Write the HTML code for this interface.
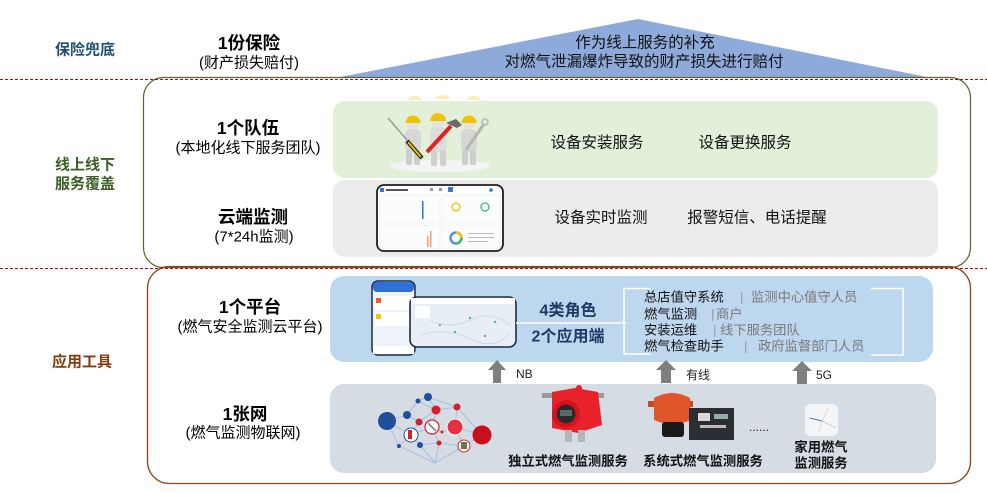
<!DOCTYPE html>
<html><head><meta charset="utf-8">
<style>
html,body{margin:0;padding:0;background:#fff;}
svg{display:block;}
text{font-family:"Liberation Sans","Noto Sans CJK SC",sans-serif;dominant-baseline:central;}
.t{text-anchor:middle;}
.b{font-weight:bold;}
</style></head><body>
<svg width="987" height="493" viewBox="0 0 987 493" xmlns="http://www.w3.org/2000/svg">
<rect width="987" height="493" fill="#fff"/>
<!-- roof -->
<polygon points="638,19 340,77 927,77" fill="#8eaadb"/>
<!-- outer boxes -->
<rect x="143.5" y="77.5" width="827" height="190" rx="20" fill="none" stroke="#4e6b30" stroke-width="1.2"/>
<rect x="147.5" y="266.5" width="823" height="217" rx="22" fill="none" stroke="#8a4516" stroke-width="1.3"/>
<line x1="0" y1="79.5" x2="987" y2="79.5" stroke="#d00000" stroke-width="1" stroke-dasharray="3 2"/>
<line x1="0" y1="268.5" x2="987" y2="268.5" stroke="#d00000" stroke-width="1" stroke-dasharray="3 2"/>

<!-- inner boxes -->
<rect x="333" y="101" width="605" height="77" rx="12" fill="#e2efd9"/>
<rect x="333" y="180" width="605" height="77" rx="12" fill="#ececec"/>
<rect x="330" y="276" width="603" height="86" rx="14" fill="#bdd7ee"/>
<rect x="330" y="384" width="606" height="89" rx="14" fill="#d6dce4"/>

<!-- workers -->
<g>
<path d="M408,100 a7,4 0 0 1 14,0 z M436,99 a7,4 0 0 1 14,0 z M467,100 a7,4 0 0 1 14,0 z" fill="#f7e6a0" opacity="0.7"/>
<ellipse cx="440" cy="166" rx="50" ry="6" fill="#f4f4f4"/>
<!-- left -->
<rect x="405" y="129" width="16" height="23" rx="6" fill="#d6d6d6"/>
<rect x="406" y="150" width="6" height="15" rx="2" fill="#cdcdcd"/>
<rect x="414" y="150" width="6" height="15" rx="2" fill="#cdcdcd"/>
<circle cx="413" cy="123" r="6" fill="#e2e2e2"/>
<path d="M405.5,123 a7.5,7.5 0 0 1 15,0 z" fill="#f2c200"/>
<line x1="388" y1="118" x2="407" y2="140" stroke="#9a9a9a" stroke-width="1.5"/>
<line x1="407" y1="141" x2="422" y2="158" stroke="#1a1a1a" stroke-width="4"/>
<line x1="408" y1="142" x2="421" y2="157" stroke="#f2c200" stroke-width="2"/>
<!-- middle -->
<rect x="430" y="127" width="17" height="25" rx="6" fill="#dcdcdc"/>
<rect x="431" y="150" width="6" height="16" rx="2" fill="#d0d0d0"/>
<rect x="440" y="150" width="6" height="16" rx="2" fill="#d0d0d0"/>
<circle cx="438" cy="121" r="6.5" fill="#e4e4e4"/>
<path d="M430,121 a8,8 0 0 1 16,0 z" fill="#f2c200"/>
<line x1="427" y1="152" x2="451" y2="126" stroke="#e02020" stroke-width="4"/>
<path d="M446,123 l10,-4 l6,6 l-5,3 z" fill="#6a6a6a"/>
<!-- right -->
<rect x="461" y="129" width="16" height="23" rx="6" fill="#d6d6d6"/>
<rect x="462" y="150" width="6" height="15" rx="2" fill="#cdcdcd"/>
<rect x="470" y="150" width="6" height="15" rx="2" fill="#cdcdcd"/>
<circle cx="469" cy="123" r="6" fill="#e2e2e2"/>
<path d="M461.5,123 a7.5,7.5 0 0 1 15,0 z" fill="#f2c200"/>
<line x1="466" y1="150" x2="484" y2="124" stroke="#b5b5b5" stroke-width="3"/>
<circle cx="485" cy="122" r="3" fill="none" stroke="#b5b5b5" stroke-width="1.5"/>
</g>

<!-- dashboard -->
<g>
<rect x="377" y="185" width="126" height="66" rx="7" fill="#fff" stroke="#1e1e1e" stroke-width="1.8"/>
<rect x="380" y="188" width="4" height="4" fill="#2e75d6"/>
<rect x="386" y="189" width="22" height="2" fill="#555"/>
<rect x="448" y="187" width="5" height="5" rx="1" fill="#2e75d6"/>
<rect x="430" y="188" width="3" height="3" fill="#999"/>
<rect x="439" y="188" width="3" height="3" fill="#999"/>
<circle cx="491" cy="190" r="1.8" fill="#2e75d6"/>
<rect x="380" y="195" width="60" height="28" fill="#fbfcfe" stroke="#e3e8ef" stroke-width="0.6"/>
<rect x="442" y="195" width="58" height="28" fill="#fbfcfe" stroke="#e3e8ef" stroke-width="0.6"/>
<rect x="380" y="225" width="60" height="24" fill="#fbfcfe" stroke="#e3e8ef" stroke-width="0.6"/>
<rect x="442" y="225" width="58" height="24" fill="#fbfcfe" stroke="#e3e8ef" stroke-width="0.6"/>
<rect x="422" y="201" width="1.5" height="18" fill="#2e75d6"/>
<rect x="427" y="236" width="1.5" height="11" fill="#f4a070"/>
<rect x="430" y="231" width="1.5" height="16" fill="#f4a070"/>
<circle cx="456" cy="207" r="4" fill="none" stroke="#f2c200" stroke-width="1.3"/>
<circle cx="485" cy="207" r="4" fill="none" stroke="#3cb878" stroke-width="1.3"/>
<circle cx="456" cy="238" r="5.5" fill="none" stroke="#5a8ee0" stroke-width="2.5"/>
<path d="M456,232.5 a5.5,5.5 0 0 1 5.5,5.5" fill="none" stroke="#f2c200" stroke-width="2.5"/>
<path d="M461.5,238 a5.5,5.5 0 0 1 -5.5,5.5" fill="none" stroke="#3cb878" stroke-width="2.5"/>
<rect x="468" y="233" width="26" height="1" fill="#bbb"/>
<rect x="468" y="237" width="26" height="1" fill="#bbb"/>
<rect x="468" y="241" width="20" height="1" fill="#bbb"/>
</g>

<!-- phone + map -->
<g>
<rect x="372" y="281" width="43" height="74" rx="6" fill="#eef3f9" stroke="#1e2a3a" stroke-width="1.5"/>
<rect x="373" y="282" width="41" height="10" rx="4" fill="#2f6fd8"/>
<rect x="375" y="296" width="36" height="14" fill="#fff"/>
<rect x="376" y="298" width="5" height="5" fill="#f05a28"/>
<rect x="375" y="312" width="36" height="14" fill="#fff"/>
<rect x="376" y="314" width="5" height="5" fill="#f2c200"/>
<rect x="373" y="346" width="41" height="8" fill="#fff"/>
<rect x="410" y="297" width="106" height="50" rx="7" fill="#e7eef6" stroke="#1e2a3a" stroke-width="1.6"/>
<rect x="411" y="298" width="104" height="6" fill="#fff"/>
<rect x="415" y="306" width="15" height="12" fill="#fff"/>
<circle cx="440" cy="325" r="1.2" fill="#5bb870"/>
<circle cx="455" cy="332" r="1.2" fill="#5bb870"/>
<circle cx="470" cy="318" r="1.2" fill="#5bb870"/>
<circle cx="485" cy="336" r="1.2" fill="#5bb870"/>
<circle cx="495" cy="322" r="1.2" fill="#5bb870"/>
<path d="M430,320 q20,10 40,0 t40,5" fill="none" stroke="#cfdae8" stroke-width="1"/>
<path d="M420,335 q25,-8 50,4 t40,-6" fill="none" stroke="#cfdae8" stroke-width="1"/>
</g>

<!-- connector line and brackets -->
<line x1="516" y1="323" x2="626" y2="323" stroke="#fff" stroke-width="1.6"/>
<path d="M651,288.5 H624 V354 H651" fill="none" stroke="#fff" stroke-width="1.6"/>
<path d="M871,288.5 H903 V355 H871" fill="none" stroke="#fff" stroke-width="1.6"/>

<!-- arrows -->
<g fill="#7f7f7f">
<polygon points="497,360 488,370 493,370 493,383 501,383 501,370 506,370"/>
<polygon points="666,360 656,370 661,370 661,383 671,383 671,370 676,370"/>
<polygon points="802,361 792,371 797,371 797,384 807,384 807,371 812,371"/>
</g>

<!-- network -->
<g stroke="#9db8df" stroke-width="0.8" fill="none">
<path d="M387,421 L407,415 L418,401 L428,397 L457,407 L482,435 L464,446 L435,463 L399,446 L387,421"/>
<path d="M407,415 L419,422 L436,410 L457,407 L455,427 L482,435"/>
<path d="M418,401 L436,410 L432,427 L442,432 L455,427 L464,446 L439,443 L420,445 L411,435 L399,446"/>
<path d="M419,422 L411,435 L432,427 L439,443 L435,463 L420,445"/>
<path d="M428,397 L436,410 M387,421 L411,435"/>
</g>
<g>
<circle cx="387" cy="421" r="9" fill="#1f4e9a"/>
<circle cx="407" cy="415" r="4" fill="#1f4e9a"/>
<circle cx="418" cy="401" r="2.5" fill="#1f4e9a"/>
<circle cx="428" cy="397" r="4" fill="#1f4e9a"/>
<circle cx="420" cy="445" r="3" fill="#1f4e9a"/>
<circle cx="399" cy="446" r="2" fill="#1f4e9a"/>
<circle cx="436" cy="410" r="4.5" fill="#d81e2a"/>
<circle cx="457" cy="407" r="3.5" fill="#d81e2a"/>
<circle cx="419" cy="422" r="3.5" fill="#d81e2a"/>
<circle cx="411" cy="435" r="7" fill="#fff" stroke="#1f4e9a" stroke-width="1"/>
<rect x="408" y="430" width="4" height="9" fill="#d81e2a"/>
<circle cx="432" cy="427" r="7" fill="#fff" stroke="#d81e2a" stroke-width="1.2"/>
<line x1="428" y1="423" x2="436" y2="431" stroke="#777" stroke-width="1.5"/>
<circle cx="442" cy="432" r="1.5" fill="#d81e2a"/>
<circle cx="455" cy="427" r="8" fill="#e83040" stroke="#fff" stroke-width="1"/>
<circle cx="482" cy="435" r="9.5" fill="#c8101c"/>
<circle cx="439" cy="443" r="2.5" fill="#d81e2a"/>
<circle cx="464" cy="446" r="6" fill="#fff" stroke="#d81e2a" stroke-width="1"/>
<rect x="461" y="442" width="6" height="7" fill="#6b7a4a"/>
</g>

<!-- red detector -->
<g>
<rect x="542" y="393" width="10" height="5" fill="#9a9a9a"/>
<rect x="598" y="393" width="6" height="5" fill="#9a9a9a"/>
<path d="M552,392 L575,388 L598,392 L602,425 L578,433 L552,428 Z" fill="#e8222a"/>
<circle cx="579" cy="388" r="3" fill="#e8222a"/>
<circle cx="566" cy="414" r="14" fill="#d8121c"/>
<circle cx="566" cy="414" r="9.5" fill="#2a2a2a"/>
<rect x="560" y="410" width="12" height="6" fill="#5a6a6a"/>
<rect x="565" y="430" width="7" height="12" fill="#b5b5b5"/>
<rect x="578" y="430" width="7" height="12" fill="#b5b5b5"/>
</g>

<!-- orange detector + panel -->
<g>
<rect x="648" y="401" width="6" height="6" fill="#c44a20"/>
<rect x="688" y="401" width="5" height="6" fill="#c44a20"/>
<path d="M654,398 Q672,388 690,398 L691,420 Q672,428 654,420 Z" fill="#e0562a"/>
<rect x="662" y="422" width="22" height="15" rx="3" fill="#1a1a1a"/>
<rect x="689" y="408" width="45" height="32" fill="#2b2e33"/>
<rect x="698" y="413" width="12" height="8" fill="#d8d8d8"/>
<rect x="714" y="414" width="14" height="5" fill="#9aa"/>
<rect x="700" y="425" width="26" height="3" fill="#bbb"/>
</g>

<!-- home detector -->
<rect x="805" y="404" width="33" height="32" rx="6" fill="#f4f5f7"/>
<line x1="810" y1="418" x2="822" y2="421" stroke="#4a78c8" stroke-width="1"/>
<line x1="822" y1="421" x2="836" y2="428" stroke="#aaa" stroke-width="0.6"/>
<line x1="828" y1="408" x2="818" y2="432" stroke="#ccc" stroke-width="0.6"/>

<!-- left labels -->
<text class="t b" x="85" y="50" font-size="15" fill="#1f4e79">保险兜底</text>
<text class="t b" x="85" y="165" font-size="15" fill="#3b5e24">线上线下</text>
<text class="t b" x="85" y="184" font-size="15" fill="#3b5e24">服务覆盖</text>
<text class="t b" x="82" y="362" font-size="15" fill="#843c0c">应用工具</text>

<!-- column labels -->
<text class="t b" x="249" y="43" font-size="17.5" fill="#000">1份保险</text>
<text class="t" x="249" y="63" font-size="15" fill="#000">(财产损失赔付)</text>
<text class="t b" x="248" y="128" font-size="17.5" fill="#000">1个队伍</text>
<text class="t" x="248" y="148" font-size="15" fill="#000">(本地化线下服务团队)</text>
<text class="t b" x="253" y="217" font-size="17.5" fill="#000">云端监测</text>
<text class="t" x="254" y="237" font-size="15" fill="#000">(7*24h监测)</text>
<text class="t b" x="250" y="307" font-size="17.5" fill="#000">1个平台</text>
<text class="t" x="250" y="327" font-size="15" fill="#000">(燃气安全监测云平台)</text>
<text class="t b" x="245" y="414" font-size="17.5" fill="#000">1张网</text>
<text class="t" x="243" y="433" font-size="15" fill="#000">(燃气监测物联网)</text>

<!-- roof text -->
<text class="t" x="645" y="43" font-size="15.5" fill="#111">作为线上服务的补充</text>
<text class="t" x="644" y="62" font-size="15.5" fill="#111">对燃气泄漏爆炸导致的财产损失进行赔付</text>

<!-- service text -->
<text class="t" x="597" y="143" font-size="15.5" fill="#111">设备安装服务</text>
<text class="t" x="745" y="143" font-size="15.5" fill="#111">设备更换服务</text>
<text class="t" x="601" y="218" font-size="15.5" fill="#111">设备实时监测</text>
<text class="t" x="757" y="218" font-size="15.5" fill="#111">报警短信、电话提醒</text>

<!-- platform -->
<text class="t b" x="568" y="311" font-size="16" fill="#1f3864">4类角色</text>
<text class="t b" x="568" y="337" font-size="16" fill="#1f3864">2个应用端</text>

<g font-size="13.3">
<text x="644" y="297" fill="#111">总店值守系统</text>
<text x="740" y="297" fill="#9a9a9a">|</text>
<text x="751" y="297" fill="#7a7a7a">监测中心值守人员</text>
<text x="644" y="314" fill="#111">燃气监测</text>
<text x="711" y="314" fill="#9a9a9a">|</text>
<text x="716" y="314" fill="#7a7a7a">商户</text>
<text x="644" y="330" fill="#111">安装运维</text>
<text x="713" y="330" fill="#9a9a9a">|</text>
<text x="720" y="330" fill="#7a7a7a">线下服务团队</text>
<text x="644" y="346" fill="#111">燃气检查助手</text>
<text x="744" y="346" fill="#9a9a9a">|</text>
<text x="758" y="346" fill="#7a7a7a">政府监督部门人员</text>
</g>

<text x="516" y="374" font-size="12" fill="#222">NB</text>
<text x="686" y="375" font-size="12" fill="#222">有线</text>
<text x="816" y="375" font-size="12" fill="#222">5G</text>

<!-- device captions -->
<text class="t b" x="568" y="461" font-size="13.3" fill="#111">独立式燃气监测服务</text>
<text class="t b" x="703" y="461" font-size="13.3" fill="#111">系统式燃气监测服务</text>
<text class="t" x="759" y="427" font-size="12" fill="#222">......</text>
<text class="t b" x="821" y="447" font-size="13.3" fill="#111">家用燃气</text>
<text class="t b" x="821" y="463" font-size="13.3" fill="#111">监测服务</text>
</svg>
</body></html>
